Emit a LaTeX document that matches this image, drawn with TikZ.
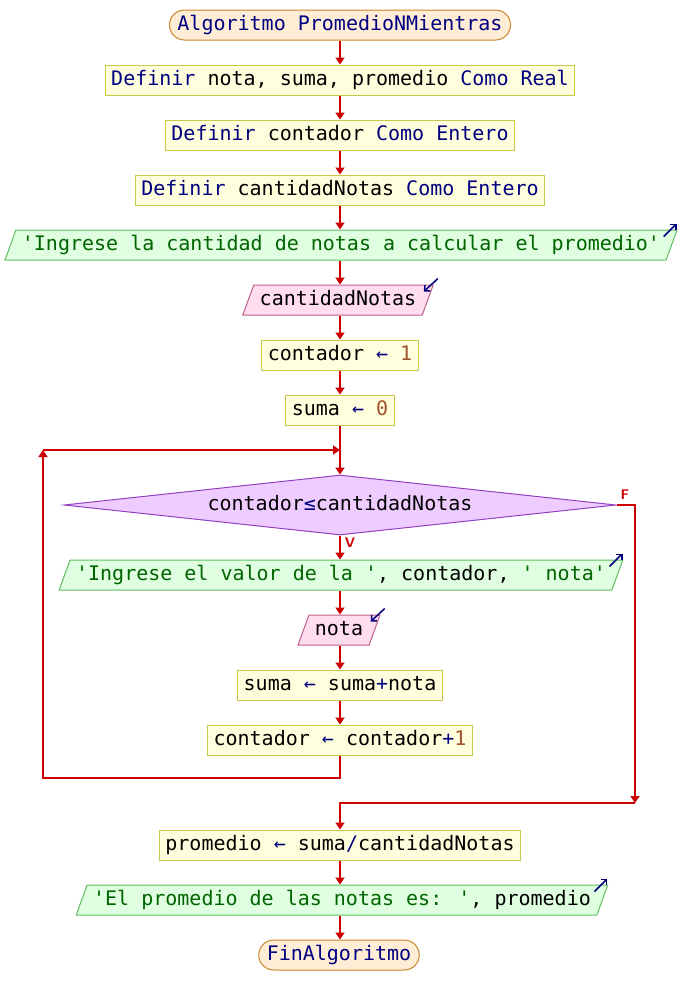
\documentclass[tikz,border=0pt]{standalone}
\usepackage{fontspec}
\setmainfont{DejaVu Sans Mono}
\usetikzlibrary{shapes.geometric,arrows.meta}
\definecolor{flow}{HTML}{CC0000}
\definecolor{kwblue}{HTML}{000080}
\definecolor{strgreen}{HTML}{006400}
\definecolor{numbrown}{HTML}{A0522D}
\definecolor{procfill}{HTML}{FFFFDD}
\definecolor{procline}{HTML}{C8C84B}
\definecolor{termfill}{HTML}{FFEED5}
\definecolor{termline}{HTML}{C8862E}
\definecolor{outfill}{HTML}{E0FFE0}
\definecolor{outline}{HTML}{60BF60}
\definecolor{infill}{HTML}{FFDDEE}
\definecolor{inline}{HTML}{C0608A}
\definecolor{condfill}{HTML}{EECCFF}
\definecolor{condline}{HTML}{9040C0}
\newcommand{\kw}[1]{\textcolor{kwblue}{#1}}
\newcommand{\strg}[1]{\textcolor{strgreen}{#1}}
\newcommand{\numc}[1]{\textcolor{numbrown}{#1}}
\newcommand{\asg}{\kw{←}}
\newcommand{\q}{\textquotesingle}
\begin{document}
\begin{tikzpicture}[x=1pt,y=-1pt,
    every node/.style={font=\fontsize{20}{22}\selectfont, text height=14pt,
      text depth=4pt, inner xsep=6pt, inner ysep=6pt},
    procbox/.style={draw=procline, fill=procfill, line width=1pt},
    termbox/.style={draw=termline, fill=termfill, line width=1pt,
      rounded corners=15pt, inner xsep=8pt, text=kwblue},
    outbox/.style={trapezium, trapezium left angle=70, trapezium right angle=110,
      draw=outline, fill=outfill, line width=1pt},
    inbox/.style={trapezium, trapezium left angle=70, trapezium right angle=110,
      draw=inline, fill=infill, line width=1pt},
    condbox/.style={diamond, aspect=9, inner sep=0pt, minimum width=552pt,
      minimum height=60pt, draw=condline, fill=condfill, line width=1pt},
    link/.style={draw=flow, line width=2pt, -{Triangle[width=9pt,length=7pt]}},
    branch/.style={text=flow, font=\sffamily\bfseries\fontsize{14}{15}\selectfont,
      inner sep=0pt, text height=, text depth=},
    ioicon/.style={draw=kwblue, line width=1.5pt, -{Straight Barb[length=4pt]}}]
  \useasboundingbox (0,0) rectangle (680,1005);
  % nodes
  \node[termbox] (start) at (340,25) {Algoritmo PromedioNMientras};
  \node[procbox] (def1) at (340,80) {\kw{Definir} nota, suma, promedio \kw{Como Real}};
  \node[procbox] (def2) at (340,135) {\kw{Definir} contador \kw{Como Entero}};
  \node[procbox] (def3) at (340,190) {\kw{Definir} cantidadNotas \kw{Como Entero}};
  \node[outbox] (out1) at (341,245) {\strg{\q Ingrese la cantidad de notas a calcular el promedio\q}};
  \node[inbox] (in1) at (338,300) {cantidadNotas};
  \node[procbox] (set1) at (340,355) {contador \asg{} \numc{1}};
  \node[procbox] (set2) at (340,410) {suma \asg{} \numc{0}};
  \node[condbox] (cond) at (340,505) {contador\kw{≤}cantidadNotas};
  \node[outbox] (out2) at (341,575) {\strg{\q Ingrese el valor de la \q}, contador, \strg{\q{} nota\q}};
  \node[inbox] (in2) at (339,630) {nota};
  \node[procbox] (set3) at (340,685) {suma \asg{} suma\kw{+}nota};
  \node[procbox] (set4) at (340,740) {contador \asg{} contador\kw{+}\numc{1}};
  \node[procbox] (set5) at (340,845) {promedio \asg{} suma\kw{/}cantidadNotas};
  \node[outbox] (out3) at (342,900) {\strg{\q El promedio de las notas es: \q}, promedio};
  \node[termbox] (stop) at (339,955) {FinAlgoritmo};
  % loop corners
  \coordinate (join) at (340,450);
  \coordinate (lt) at (43,450);
  \coordinate (lb) at (43,778);
  \coordinate (fr) at (635,803);
  % io marks
  \draw[ioicon] ([shift={(-14,7)}]out1.top right corner) -- ([shift={(-1,-6)}]out1.top right corner);
  \draw[ioicon] ([shift={(-14,7)}]out2.top right corner) -- ([shift={(-1,-6)}]out2.top right corner);
  \draw[ioicon] ([shift={(-14,7)}]out3.top right corner) -- ([shift={(-1,-6)}]out3.top right corner);
  \draw[ioicon] ([shift={(4,-6)}]in1.top right corner) -- ([shift={(-10,7)}]in1.top right corner);
  \draw[ioicon] ([shift={(4,-6)}]in2.top right corner) -- ([shift={(-10,7)}]in2.top right corner);
  % connectors
  \begin{scope}[link]
    \draw (start) -- (def1);
    \draw (def1) -- (def2);
    \draw (def2) -- (def3);
    \draw (def3) -- (out1.north -| def3);
    \draw (out1.south -| def3) -- (in1.north -| def3);
    \draw (in1.south -| def3) -- (set1);
    \draw (set1) -- (set2);
    \draw (set2) -- (cond.north);
    \draw (cond.south) -- (out2.north -| cond);
    \draw (out2.south -| cond) -- (in2.north -| cond);
    \draw (in2.south -| cond) -- (set3);
    \draw (set3) -- (set4);
    \draw (set4.south) |- (lb) -- (lt);
    \draw (lt) -- (join);
    \draw (cond.east) -| (fr);
    \draw (fr) -| (set5.north);
    \draw (set5) -- (out3.north -| set5);
    \draw (out3.south -| set5) -- (stop.north -| set5);
  \end{scope}
  \node[branch] (flabel) at (625,495) {F};
  \node[branch] (vlabel) at (350,543) {V};
\end{tikzpicture}
\end{document}
